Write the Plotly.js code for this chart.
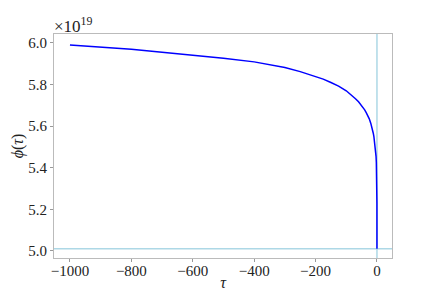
<!DOCTYPE html>
<html>
<head>
<meta charset="utf-8">
<script src="https://cdn.plot.ly/plotly-3.0.1.min.js"></script>
<style>
  html, body { margin: 0; padding: 0; background: #fff; }
  #graph { width: 436px; height: 291px; }
</style>
</head>
<body>
<div id="graph"></div>
<script>
// tau values and phi(tau) in units of 1e19
const tauValues = [-1000, -900, -800, -700, -600, -500, -400, -300, -250, -200, -175, -150, -125, -100, -85, -70, -60, -50, -40, -35, -30, -25, -20, -15, -12, -10, -8, -6, -4.5, -3, -2, -1.5, -1, -0.5, -0.25, -0.1, -0.01, 0]
const phiValues = [5.990, 5.979, 5.970, 5.955, 5.941, 5.926, 5.909, 5.882, 5.862, 5.840, 5.826, 5.810, 5.792, 5.770, 5.752, 5.732, 5.717, 5.700, 5.678, 5.665, 5.652, 5.635, 5.613, 5.588, 5.566, 5.550, 5.528, 5.505, 5.486, 5.455, 5.425, 5.400, 5.375, 5.330, 5.290, 5.230, 5.120, 5.010]
const xTicks = [-1000, -800, -600, -400, -200, 0]
const yTicks = [5.0, 5.2, 5.4, 5.6, 5.8, 6.0]
const hlineValue = 5.01
const vlineValue = 0

const serif = '"Liberation Serif", "DejaVu Serif", serif'
const graph = document.getElementById('graph')

const curve = {
  x: tauValues,
  y: phiValues,
  mode: 'lines',
  line: { color: '#0000ff', width: 1.5 },
  hoverinfo: 'skip'
}

const layout = {
  width: 436,
  height: 291,
  showlegend: false,
  paper_bgcolor: '#fff',
  plot_bgcolor: '#fff',
  margin: { l: 54, r: 44, t: 34, b: 33 },
  font: { family: serif, size: 15, color: '#222' },
  xaxis: {
    range: [-1052, 49],
    tickvals: xTicks,
    ticks: 'outside',
    ticklen: 3,
    tickcolor: '#999',
    ticklabelstandoff: -4,
    showgrid: false,
    zeroline: false,
    showline: true,
    mirror: true,
    linecolor: '#bbb',
    linewidth: 1,
    title: { text: '<i>τ</i>', font: { family: serif, size: 16 }, standoff: 0 }
  },
  yaxis: {
    range: [4.966, 6.043],
    tickvals: yTicks,
    tickformat: '.1f',
    ticks: 'outside',
    ticklen: 3,
    tickcolor: '#999',
    ticklabelstandoff: 0,
    showgrid: false,
    zeroline: false,
    showline: true,
    mirror: true,
    linecolor: '#bbb',
    linewidth: 1,
    automargin: true,
    title: { text: '<i>ϕ</i>(<i>τ</i>)', font: { family: serif, size: 16 }, standoff: 0 }
  },
  shapes: [
    { type: 'line', xref: 'paper', x0: 0, x1: 1, yref: 'y', y0: hlineValue, y1: hlineValue,
      line: { color: '#add8e6', width: 1.5 }, layer: 'below' },
    { type: 'line', xref: 'x', x0: vlineValue, x1: vlineValue, yref: 'paper', y0: 0, y1: 1,
      line: { color: '#add8e6', width: 1.5 }, layer: 'below' }
  ],
  annotations: [
    { xref: 'paper', yref: 'paper', x: 0, y: 1, xanchor: 'left', yanchor: 'bottom',
      showarrow: false, text: '×10<sup>19</sup>', font: { family: serif, size: 17, color: '#222' },
      xshift: -2, yshift: -4 }
  ]
}

const config = { displayModeBar: false, staticPlot: true }

Plotly.newPlot(graph, [curve], layout, config)
</script>
</body>
</html>
